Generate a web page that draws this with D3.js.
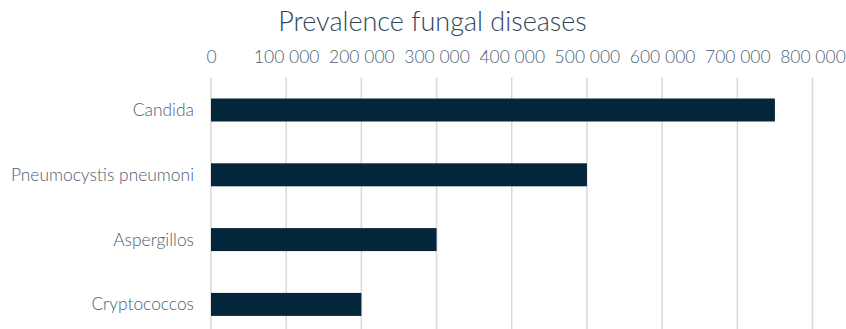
<!DOCTYPE html>
<html>
<head>
<meta charset="utf-8">
<script src="https://cdn.jsdelivr.net/npm/d3@7"></script>
<style>
  html, body { margin: 0; padding: 0; background: #fff; }
  svg { display: block; }
  text { font-family: Lato, "Open Sans", sans-serif; }
</style>
</head>
<body>
<svg id="chart" width="846" height="329"></svg>
<script>
// Prevalence by fungal disease
const categories = ["Candida", "Pneumocystis pneumoni", "Aspergillos", "Cryptococcos"];
const values = [750000, 500000, 300000, 200000];
const tickValues = [0, 100000, 200000, 300000, 400000, 500000, 600000, 700000, 800000];
const tickLabels = ["0", "100 000", "200 000", "300 000", "400 000", "500 000", "600 000", "700 000", "800 000"];
const title = "Prevalence fungal diseases";

const svg = d3.select("#chart");
const W = 846, H = 329;
const plotLeft = 211, plotRight = 812.5, plotTop = 77.6, plotBottom = 336.8;

const x = d3.scaleLinear().domain([0, 800000]).range([plotLeft, plotRight]);
const y = d3.scaleBand().domain(categories).range([plotTop, plotBottom]).paddingInner(0.645).paddingOuter(0.3225);

const labelColor = "#4a5f72";

// title
svg.append("text")
  .attr("x", 432.5).attr("y", 31)
  .attr("text-anchor", "middle")
  .attr("font-size", 27)
  .attr("font-weight", 300)
  .attr("fill", "#2e475c")
  .text(title);

// vertical gridlines
svg.append("g").selectAll("line")
  .data(tickValues)
  .join("line")
  .attr("x1", d => x(d)).attr("x2", d => x(d))
  .attr("y1", plotTop).attr("y2", H)
  .attr("stroke", "#d9d9d9")
  .attr("stroke-width", 1.5);

// top axis labels
const axis = d3.axisTop(x)
  .tickValues(tickValues)
  .tickFormat((d, i) => tickLabels[i])
  .tickSize(0)
  .tickPadding(0);
const ax = svg.append("g").attr("transform", "translate(0,63)").call(axis);
ax.select(".domain").remove();
ax.selectAll("text")
  .attr("font-family", "Lato, sans-serif")
  .attr("font-size", 17.5)
  .attr("font-weight", 300)
  .attr("fill", labelColor)
  .attr("dy", 0);

// bars
svg.append("g").selectAll("rect")
  .data(categories)
  .join("rect")
  .attr("x", x(0))
  .attr("y", d => y(d))
  .attr("width", (d, i) => x(values[i]) - x(0))
  .attr("height", y.bandwidth())
  .attr("fill", "#03263b");

// category labels
svg.append("g").selectAll("text")
  .data(categories)
  .join("text")
  .attr("x", 194)
  .attr("y", d => y(d) + y.bandwidth() / 2)
  .attr("dy", "0.35em")
  .attr("text-anchor", "end")
  .attr("font-size", 17.4)
  .attr("font-weight", 300)
  .attr("fill", labelColor)
  .text(d => d);
</script>
</body>
</html>
